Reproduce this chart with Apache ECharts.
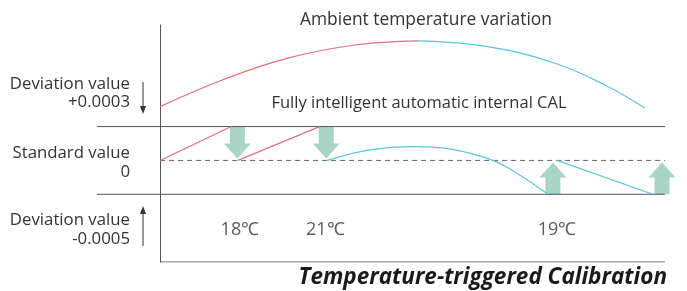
<!DOCTYPE html>
<html>
<head>
<meta charset="utf-8">
<script src="https://cdn.jsdelivr.net/npm/echarts@6/dist/echarts.min.js"></script>
</head>
<body style="margin:0;">
<div id="main" style="width:687px;height:291px;"></div>
<script type="text/javascript">
// ambient temperature curve (upper band)
var ambientRed = [[0,1.59],[12.2,2.37],[25.3,3.02],[38.6,3.41],[51.1,3.53]];
var ambientBlue = [[51.1,3.53],[64.9,3.36],[78.2,2.87],[88.1,2.23],[96.0,1.55]];
// deviation after internal CAL (middle band)
var calRed1 = [[0,0],[14.1,1]];
var calRed2 = [[15.4,0],[31.6,1]];
var calBlue1 = [[33.1,0],[41.5,0.31],[49.9,0.41],[57.3,0.34],[65.9,0],[71.2,-0.43],[76.8,-1]];
var calBlue2 = [[78.6,0],[97.6,-1]];
// calibration arrows: x, base, tip
var calArrows = [[15.3,1,0.06],[32.9,1,0.06],[77.8,-1,-0.06],[99.4,-1,-0.06]];
var tempLabels = [[15.8,-2.05,'18℃'],[32.7,-2.05,'21℃'],[78.6,-2.05,'19℃']];
var bandLevels = [1, -1];

var red = '#e0707c', blue = '#5cc4dc', green = '#a8d5c6', grey = '#555';
var font = 'Open Sans';

var myChart = echarts.init(document.getElementById('main'));

function hline(y, x0, x1, dashed) {
    return {
        type: 'line', data: [[x0, y], [x1, y]], symbol: 'none', silent: true,
        lineStyle: {color: dashed ? '#666' : grey, width: 1, type: dashed ? [5, 4] : 'solid'}
    };
}
function curve(data, color, smooth) {
    return {
        type: 'line', data: data, symbol: 'none', smooth: smooth ? 0.4 : false, silent: true,
        lineStyle: {color: color, width: 1.2}
    };
}

var series = [];
bandLevels.forEach(function (y) { series.push(hline(y, -12.5, 100, false)); });
series.push(hline(-3, 0, 100, false));
series.push(hline(0, 0, 100, true));
series.push(curve(ambientRed, red, true));
series.push(curve(ambientBlue, blue, true));
series.push(curve(calRed1, red, false));
series.push(curve(calRed2, red, false));
series.push(curve(calBlue1, blue, true));
series.push(curve(calBlue2, blue, false));
series.push({
    type: 'custom', data: calArrows, clip: false, silent: true, z: 1,
    renderItem: function (params, api) {
        var b = api.coord([api.value(0), api.value(1)]);
        var t = api.coord([api.value(0), api.value(2)]);
        var d = t[1] > b[1] ? 1 : -1;
        var sw = 7.5, hw = 13.5, hl = 15;
        var hy = t[1] - d * hl;
        return {
            type: 'polygon',
            shape: {points: [[b[0]-sw,b[1]],[b[0]+sw,b[1]],[b[0]+sw,hy],[b[0]+hw,hy],[t[0],t[1]],[b[0]-hw,hy],[b[0]-sw,hy]]},
            style: {fill: green}
        };
    }
});
series.push({
    type: 'scatter', data: tempLabels, symbolSize: 0, silent: true,
    label: {show: true, position: 'inside', formatter: function (p) { return p.data[2]; },
        color: '#333', fontSize: 18, fontFamily: font}
});

function vArrow(x, y0, y1) {
    var d = y1 > y0 ? 1 : -1;
    return {
        type: 'group', children: [
            {type: 'line', shape: {x1: x, y1: y0, x2: x, y2: y1 - d * 5}, style: {stroke: '#333', lineWidth: 1}},
            {type: 'polygon', shape: {points: [[x-3, y1-d*8], [x+3, y1-d*8], [x, y1]]}, style: {fill: '#333'}}
        ]
    };
}
function txt(x, y, s, align, size, extra) {
    var st = {text: s, x: x, y: y, align: align, verticalAlign: 'middle', fill: '#333', fontSize: size || 16.8, fontFamily: font};
    if (extra) for (var k in extra) st[k] = extra[k];
    return {type: 'text', style: st, silent: true};
}

var option = {
    animation: false,
    grid: {left: 97, right: 22, top: 25, bottom: 29},
    xAxis: {
        type: 'value', min: -12.5, max: 100, show: true,
        axisLine: {show: false},
        axisTick: {show: false}, axisLabel: {show: false}, splitLine: {show: false}
    },
    yAxis: {
        type: 'value', min: -3, max: 4,
        axisLine: {show: true, onZero: true, lineStyle: {color: grey}},
        axisTick: {show: false}, axisLabel: {show: false}, splitLine: {show: false}
    },
    series: series,
    graphic: [
        txt(426, 20, 'Ambient temperature variation', 'center', 17.4),
        txt(419, 103, 'Fully intelligent automatic internal CAL', 'center', 16.5),
        txt(130, 84, 'Deviation value', 'right'),
        txt(130, 102, '+0.0003', 'right'),
        txt(130, 153, 'Standard value', 'right'),
        txt(130, 172, '0', 'right'),
        txt(130, 220, 'Deviation value', 'right'),
        txt(130, 239, '-0.0005', 'right'),
        vArrow(143, 82, 114),
        vArrow(143, 246, 206),
        txt(667, 278, 'Temperature-triggered Calibration', 'right', 22.5, {fontWeight: 'bold', fontStyle: 'italic', fill: '#1a1a1a'})
    ]
};
myChart.setOption(option);
</script>
</body>
</html>
